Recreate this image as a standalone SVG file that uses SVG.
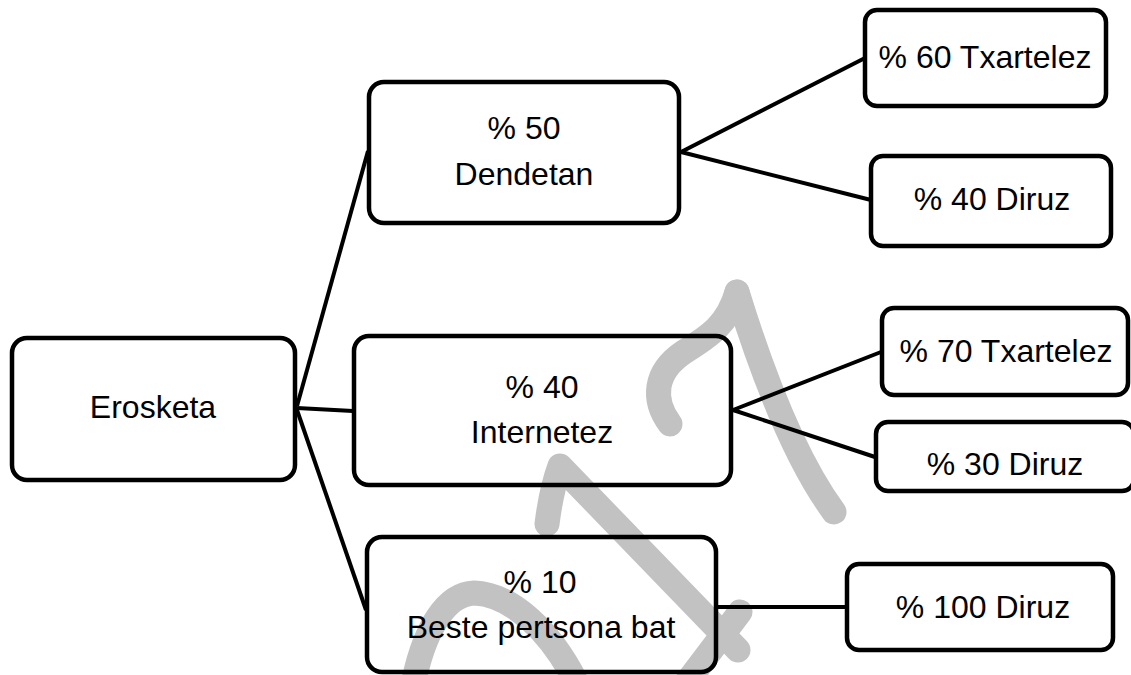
<svg xmlns="http://www.w3.org/2000/svg" width="1131" height="675" viewBox="0 0 1131 675">
<style>
.wm{fill:none;stroke:#c2c2c2;stroke-width:25;stroke-linecap:round;stroke-linejoin:round}
.box{fill:none;stroke:#000;stroke-width:4.5}
.con{fill:none;stroke:#000;stroke-width:4}
text{font-family:"Liberation Sans",Arial,sans-serif;font-size:32px;fill:#000;text-anchor:middle}
</style>
<rect width="1131" height="675" fill="#fff"/>
<g id="watermark">
<path class="wm" d="M412 690 C424 625 448 594 474 593 C510 594 552 630 580 690"/>
<path class="wm" d="M547 524 C550 500 554 482 560 466 L738 650"/>
<path class="wm" d="M740 612 L684 686"/>
<path class="wm" d="M670 424 C652 400 654 372 684 352 C710 336 728 324 737 292"/>
<path class="wm" d="M737 292 C758 360 790 452 834 512" stroke-width="22"/>
</g>
<g id="connectors">
<line class="con" x1="297" y1="406" x2="368" y2="151"/>
<line class="con" x1="297" y1="408" x2="353" y2="411"/>
<line class="con" x1="297" y1="410" x2="366" y2="610"/>
<line class="con" x1="681" y1="152" x2="865" y2="58"/>
<line class="con" x1="681" y1="152" x2="871" y2="200"/>
<line class="con" x1="733" y1="410" x2="881" y2="352"/>
<line class="con" x1="733" y1="410" x2="875" y2="457"/>
<line class="con" x1="717" y1="607" x2="846" y2="607"/>
</g>
<g id="n-erosketa">
<rect class="box" x="12" y="338" width="283" height="142" rx="15"/>
<text x="153" y="418">Erosketa</text>
</g>
<g id="n-dendetan">
<rect class="box" x="369" y="82" width="310" height="141" rx="15"/>
<text x="524" y="139">% 50</text>
<text x="524" y="185">Dendetan</text>
</g>
<g id="n-d-txartelez">
<rect class="box" x="865" y="10" width="241" height="96" rx="12"/>
<text x="985" y="68">% 60 Txartelez</text>
</g>
<g id="n-d-diruz">
<rect class="box" x="871" y="156" width="240" height="90" rx="12"/>
<text x="992" y="210">% 40 Diruz</text>
</g>
<g id="n-internetez">
<rect class="box" x="354" y="336" width="377" height="149" rx="15"/>
<text x="542" y="398">% 40</text>
<text x="542" y="443">Internetez</text>
</g>
<g id="n-i-txartelez">
<rect class="box" x="882" y="308" width="246" height="87" rx="12"/>
<text x="1006" y="362">% 70 Txartelez</text>
</g>
<g id="n-i-diruz">
<rect class="box" x="876" y="422" width="258" height="69" rx="12"/>
<text x="1005" y="475">% 30 Diruz</text>
</g>
<g id="n-beste">
<rect class="box" x="367" y="537" width="349" height="135" rx="15"/>
<text x="540" y="593">% 10</text>
<text x="541" y="638">Beste pertsona bat</text>
</g>
<g id="n-b-diruz">
<rect class="box" x="847" y="564" width="266" height="86" rx="12"/>
<text x="983" y="618">% 100 Diruz</text>
</g>
</svg>
